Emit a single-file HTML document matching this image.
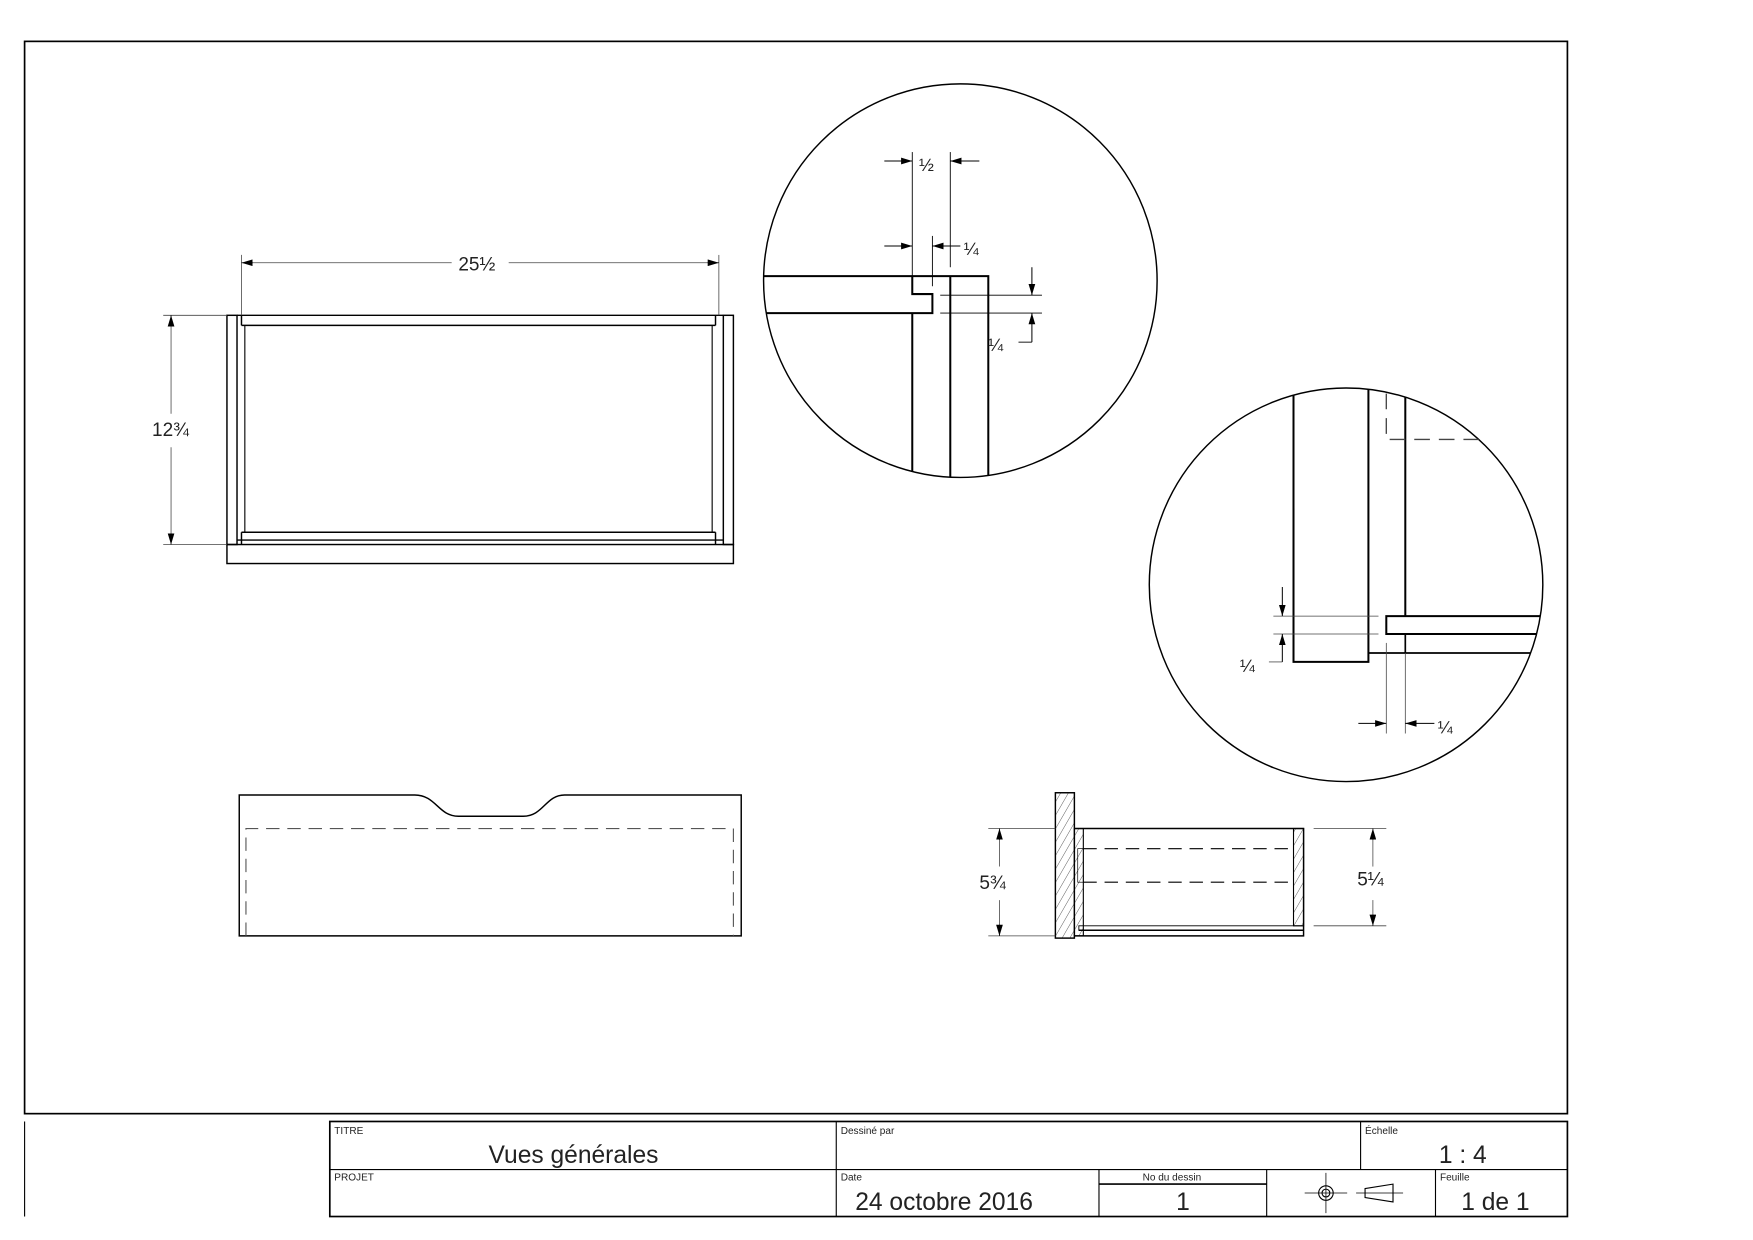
<!DOCTYPE html>
<html><head><meta charset="utf-8"><style>
html,body{margin:0;padding:0;background:#fff}
svg{display:block}
text{font-family:"Liberation Sans",sans-serif;fill:#222}
</style></head><body>
<svg width="1753" height="1240" viewBox="0 0 1568 1109" preserveAspectRatio="none" xmlns="http://www.w3.org/2000/svg">
<defs>
<marker id="ar" viewBox="0 0 10 6" refX="10" refY="3" markerWidth="10" markerHeight="6" markerUnits="userSpaceOnUse" orient="auto"><path d="M0,0 L10,3 L0,6 z" fill="#000"/></marker>
<pattern id="hat" patternUnits="userSpaceOnUse" width="6" height="6" patternTransform="rotate(30)"><line x1="0" y1="0" x2="0" y2="6" stroke="#333" stroke-width="0.7"/></pattern>
</defs>
<g fill="none" stroke="#000">
<rect x="22" y="37" width="1380" height="959" stroke-width="1.5"/>
<line x1="22" y1="1003" x2="22" y2="1088" stroke-width="1"/>
<rect x="295" y="1003" width="1107" height="85" stroke-width="1.5"/>
<line x1="295" y1="1046" x2="1402" y2="1046" stroke-width="1"/>
<line x1="748" y1="1003" x2="748" y2="1088" stroke-width="1"/>
<line x1="1217" y1="1003" x2="1217" y2="1046" stroke-width="1"/>
<line x1="983" y1="1046" x2="983" y2="1088" stroke-width="1"/>
<line x1="1133" y1="1046" x2="1133" y2="1088" stroke-width="1"/>
<line x1="1284" y1="1046" x2="1284" y2="1088" stroke-width="1"/>
<line x1="983" y1="1059" x2="1133" y2="1059" stroke-width="1.5"/>
<circle cx="1186" cy="1067" r="6.5" stroke-width="1"/><circle cx="1186" cy="1067" r="3.5" stroke-width="1"/>
<line x1="1167" y1="1067" x2="1205" y2="1067" stroke-width="0.7"/><line x1="1186" y1="1049" x2="1186" y2="1085" stroke-width="0.7"/>
<path d="M1221,1063 L1246,1059 L1246,1075 L1221,1071 z" stroke-width="1"/>
<line x1="1213" y1="1067" x2="1255" y2="1067" stroke-width="0.7"/>

<!-- top view -->
<g stroke-width="1.3">
<rect x="203" y="282" width="9" height="205"/>
<rect x="647" y="282" width="9" height="205"/>
<rect x="203" y="487" width="453" height="17"/>
<path d="M212,282 L647,282 M216,291 L640,291 M216,282 L216,291 M640,282 L640,291"/>
<path d="M212,483 L647,483 M216,476 L640,476 M216,476 L216,487 M640,476 L640,487"/>
<path d="M219,291 L219,476 M637,291 L637,476" stroke-width="1"/>
</g>
<g stroke-width="0.7" stroke="#444">
<line x1="216" y1="228" x2="216" y2="282"/><line x1="643" y1="228" x2="643" y2="282"/>
<line x1="219" y1="235" x2="404" y2="235"/><line x1="455" y1="235" x2="640" y2="235"/>
<line x1="146" y1="282" x2="203" y2="282"/><line x1="146" y1="487" x2="203" y2="487"/>
<line x1="153" y1="285" x2="153" y2="370"/><line x1="153" y1="400" x2="153" y2="484"/>
</g>
<g stroke-width="0.7" marker-end="url(#ar)">
<path d="M226,235 L216,235"/><path d="M633,235 L643,235"/><path d="M153,292 L153,282"/><path d="M153,477 L153,487"/>
</g>

<!-- front view -->
<path d="M214,711 L371,711 C390,711 392,730 410,730 L468,730 C486,730 488,711 505,711 L663,711 L663,837 L214,837 Z" stroke-width="1.3"/>
<path d="M220,837 L220,741 L656,741 L656,837" stroke-width="1" stroke="#555" stroke-dasharray="12,7"/>

<!-- side view -->
<rect x="944" y="709" width="17" height="130" fill="url(#hat)" stroke-width="1.3"/>
<rect x="961" y="741" width="8" height="96" fill="url(#hat)" stroke-width="1"/>
<rect x="1157" y="741" width="9" height="87" fill="url(#hat)" stroke-width="1"/>
<path d="M961,741 L1166,741 L1166,837 L961,837" stroke-width="1.3"/>
<rect x="965" y="828" width="201" height="4" stroke-width="0.8"/>
<line x1="965" y1="832" x2="1166" y2="832" stroke-width="1.3"/>
<path d="M969,759 L1157,759 M969,789 L1157,789" stroke-width="1" stroke-dasharray="12,7"/>
<rect x="964" y="759" width="5" height="30" stroke-width="0.6"/>
<g stroke-width="0.7" stroke="#444">
<line x1="884" y1="741" x2="944" y2="741"/><line x1="884" y1="837" x2="944" y2="837"/>
<line x1="894" y1="744" x2="894" y2="775"/><line x1="894" y1="805" x2="894" y2="834"/>
<line x1="1175" y1="741" x2="1240" y2="741"/><line x1="1175" y1="828" x2="1240" y2="828"/>
<line x1="1228" y1="744" x2="1228" y2="775"/><line x1="1228" y1="805" x2="1228" y2="825"/>
</g>
<g stroke-width="0.7" marker-end="url(#ar)">
<path d="M894,751 L894,741"/><path d="M894,827 L894,837"/><path d="M1228,751 L1228,741"/><path d="M1228,818 L1228,828"/>
</g>

<!-- circle 1 -->
<circle cx="859" cy="251" r="176" stroke-width="1.3"/>
<clipPath id="c1"><circle cx="859" cy="251" r="176"/></clipPath>
<clipPath id="c2"><circle cx="1204" cy="523" r="176"/></clipPath>
<g clip-path="url(#c1)" stroke-width="1.8">
<path d="M660,247 L884,247 L884,440"/>
<path d="M660,280 L834,280 L834,263 L816,263 L816,247"/>
<path d="M816,280 L816,440 M850,247 L850,440"/>
</g>
<g stroke-width="0.8">
<line x1="816" y1="136" x2="816" y2="247"/><line x1="850" y1="136" x2="850" y2="239"/>
<line x1="834" y1="211" x2="834" y2="256"/>
<line x1="841" y1="264" x2="932" y2="264"/><line x1="841" y1="280" x2="932" y2="280"/>
<line x1="911" y1="306" x2="923" y2="306"/>
</g>
<g stroke-width="0.9" marker-end="url(#ar)">
<path d="M791,144 L816,144"/><path d="M876,144 L850,144"/><path d="M791,220 L816,220"/><path d="M859,220 L834,220"/><path d="M923,239 L923,264"/><path d="M923,306 L923,280"/>
</g>

<!-- circle 2 -->
<circle cx="1204" cy="523" r="176" stroke-width="1.3"/>
<g clip-path="url(#c2)" stroke-width="1.8">
<path d="M1157,330 L1157,592 L1224,592 L1224,330"/>
<path d="M1257,330 L1257,551"/>
<path d="M1400,551 L1240,551 L1240,567 L1400,567"/>
<path d="M1224,584 L1400,584" stroke-width="1.5"/>
<path d="M1257,567 L1257,584" stroke-width="1.5"/>
<path d="M1240,330 L1240,393 L1400,393" stroke-width="1.2" stroke="#444" stroke-dasharray="14,8"/>
</g>
<g stroke-width="0.7" stroke="#444">
<line x1="1139" y1="551" x2="1233" y2="551"/><line x1="1139" y1="567" x2="1233" y2="567"/>
<line x1="1135" y1="592" x2="1147" y2="592"/>
<line x1="1240" y1="575" x2="1240" y2="656"/><line x1="1257" y1="584" x2="1257" y2="656"/>
</g>
<g stroke-width="0.9" marker-end="url(#ar)">
<path d="M1147,525 L1147,551"/><path d="M1147,592 L1147,567"/><path d="M1215,647 L1240,647"/><path d="M1283,647 L1257,647"/>
</g>
</g>

<g font-size="17" fill="#333">
<text x="410" y="242">25½</text>
<text x="136" y="390">12¾</text>
<text x="876" y="795">5¾</text>
<text x="1214" y="792">5¼</text>
<text x="822" y="153" font-size="16">½</text>
<text x="862" y="228" font-size="16">¼</text>
<text x="884" y="314" font-size="16">¼</text>
<text x="1109" y="601" font-size="16">¼</text>
<text x="1286" y="656" font-size="16">¼</text>
</g>
<g font-size="9" fill="#333">
<text x="299" y="1014">TITRE</text>
<text x="752" y="1014">Dessiné par</text>
<text x="1221" y="1014">Échelle</text>
<text x="299" y="1056">PROJET</text>
<text x="752" y="1056">Date</text>
<text x="1022" y="1056">No du dessin</text>
<text x="1288" y="1056">Feuille</text>
</g>
<g font-size="22" fill="#222">
<text x="437" y="1040">Vues générales</text>
<text x="1287" y="1040">1 : 4</text>
<text x="765" y="1082">24 octobre 2016</text>
<text x="1052" y="1082">1</text>
<text x="1307" y="1082">1 de 1</text>
</g>
</svg>
</body></html>
